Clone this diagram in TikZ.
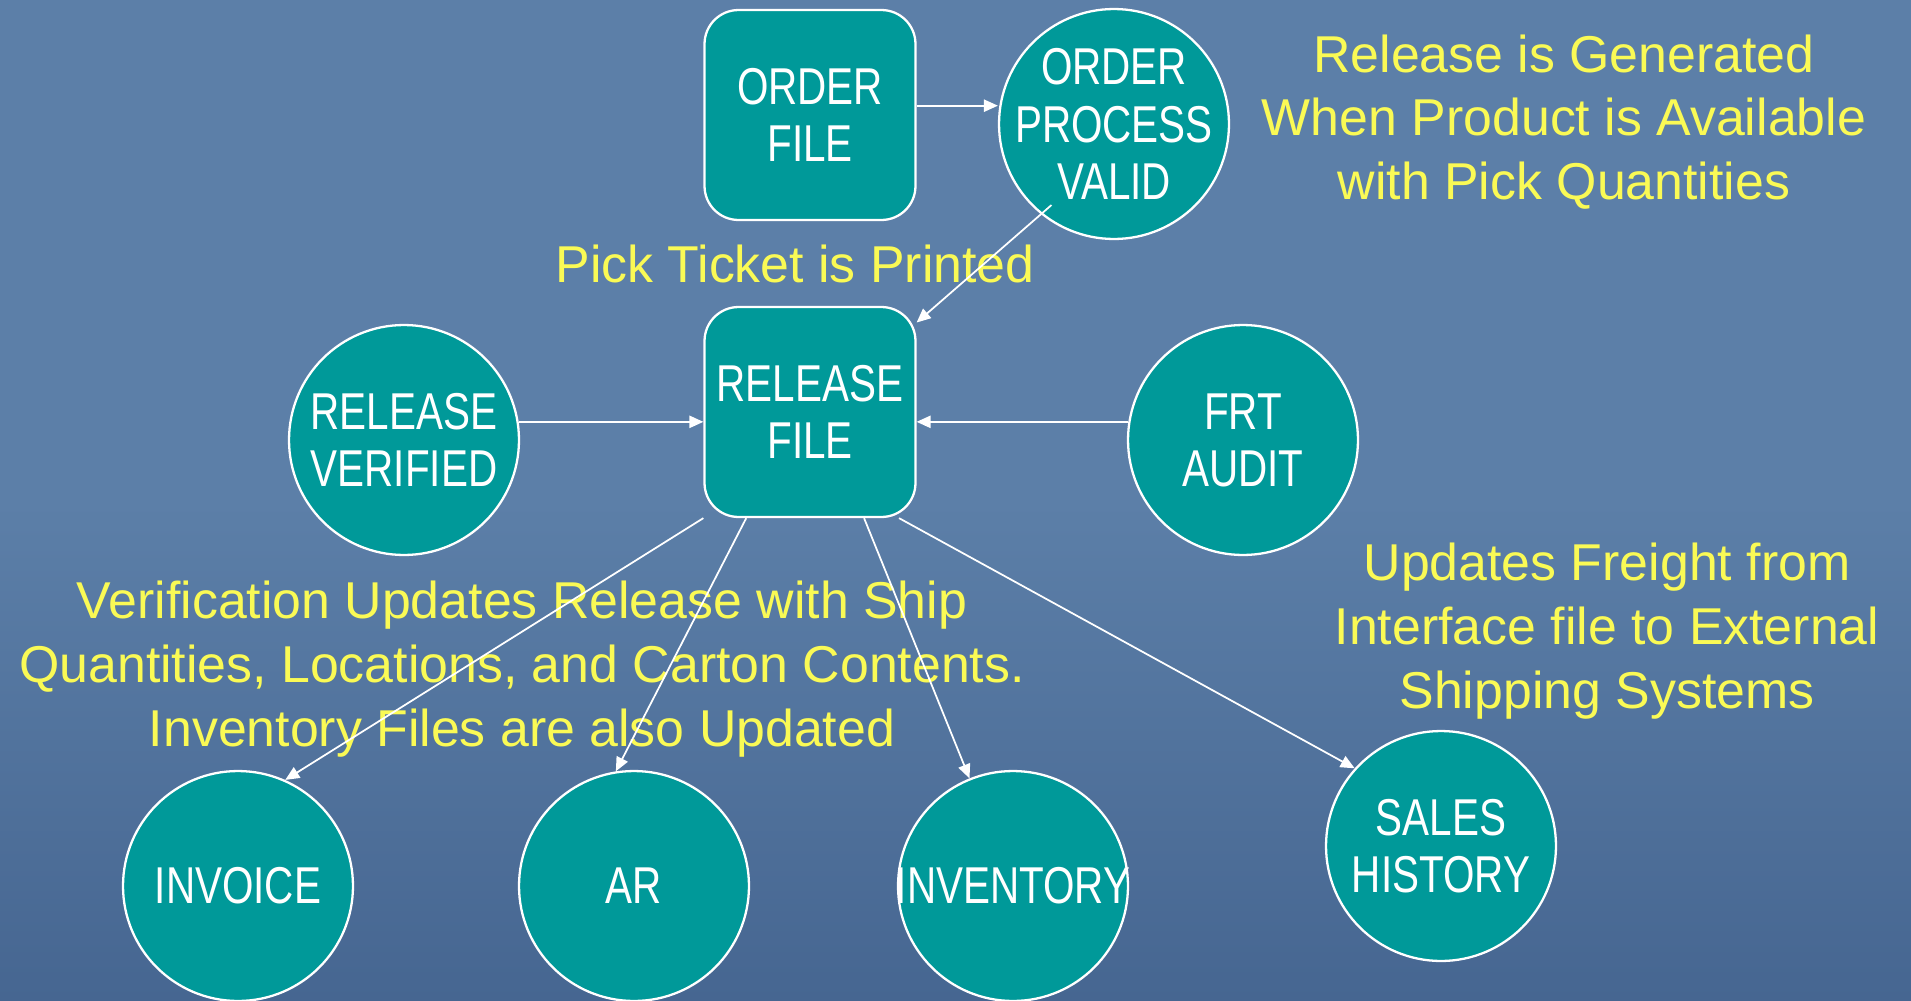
\documentclass[tikz,border=0pt]{standalone}
\usepackage{fontspec}
\setmainfont{Liberation Sans}
\newfontfamily\boxfont[FakeStretch=0.78]{Liberation Sans}
\usetikzlibrary{arrows.meta}
\definecolor{bgtop}{RGB}{92,127,168}
\definecolor{bgbot}{RGB}{70,102,145}
\definecolor{boxteal}{RGB}{0,153,153}
\definecolor{noteyellow}{RGB}{250,250,85}

\begin{document}
\begin{tikzpicture}[x=0.02cm,y=-0.02cm,
   file/.style={draw=white,line width=1.3pt,fill=boxteal,rounded corners=0.68cm,minimum width=4.22cm,minimum height=4.2cm,inner sep=0pt,text=white,align=center,font=\boxfont\fontsize{29.5}{32.5}\selectfont},
   proc/.style={draw=white,line width=1.3pt,fill=boxteal,circle,minimum size=4.6cm,inner sep=-10pt,text=white,align=center,font=\boxfont\fontsize{29.5}{32.5}\selectfont},
   note/.style={text=noteyellow,align=center,inner sep=0pt,font=\fontsize{29.5}{36.3}\selectfont},
   flow/.style={-{Triangle[length=8pt,width=7pt]},white,line width=1pt}]
\useasboundingbox (0,0) rectangle (1911,1001);
\shade[top color=bgtop,bottom color=bgbot,middle color=bgtop] (0,0) rectangle (1911,1001);
\node[file] (orderfile) at (810,115) {ORDER\\FILE};
\node[proc] (ordervalid) at (1114,124) {ORDER\\PROCESS\\VALID};
\node[file] (relfile) at (810,412) {RELEASE\\FILE};
\node[proc] (relverified) at (404,440) {RELEASE\\VERIFIED};
\node[proc] (frtaudit) at (1243,440) {FRT\\AUDIT};
\node[proc] (invoice) at (238,886) {INVOICE};
\node[proc] (ar) at (634,886) {AR};
\node[proc] (inventory) at (1013,886) {INVENTORY};
\node[proc] (saleshist) at (1441,846) {SALES\\HISTORY};
\node[note] (genrelease) at (1564,122) {Release is Generated\\When Product is Available\\with Pick Quantities};
\node[note] (pickticket) at (795,264) {Pick Ticket is Printed};
\node[note] (verifynote) at (522,669) {Verification Updates Release with Ship\\Quantities, Locations, and Carton Contents.\\Inventory Files are also Updated};
\node[note] (freightnote) at (1607,631) {Updates Freight from\\Interface file to External\\Shipping Systems};
\draw[flow] (orderfile.5) -- (orderfile.5 -| ordervalid.west);
\draw[flow,shorten <=-0.28cm] (ordervalid.231) -- (relfile.40);
\draw[flow] (relverified.9) -- (relverified.9 -| relfile.west);
\draw[flow] (frtaudit.171) -- (frtaudit.171 -| relfile.east);
\draw[flow] (relfile.south west) -- (invoice.66);
\draw[flow] (relfile.239) -- (ar.99);
\draw[flow] (relfile.297) -- (inventory.112);
\draw[flow] (relfile.310) -- (saleshist.138);
\end{tikzpicture}
\end{document}
